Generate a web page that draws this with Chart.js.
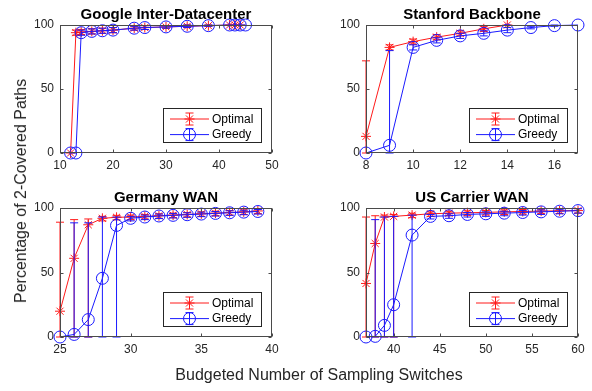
<!DOCTYPE html>
<html><head><meta charset="utf-8">
<script src="https://cdn.jsdelivr.net/npm/chart.js@4.4.1/dist/chart.umd.min.js"></script>
<style>
html,body{margin:0;padding:0;background:#fff;width:592px;height:391px;overflow:hidden;}
canvas{position:absolute;left:0;top:0;}
.lab{position:absolute;font-family:"Liberation Sans",Arial,sans-serif;font-size:16px;color:#262626;white-space:nowrap;}
#xlab{left:319px;top:375px;transform:translate(-50%,-50%);}
#ylab{left:21px;top:191px;transform:translate(-50%,-50%) rotate(-90deg);}
</style></head><body>
<canvas id="c0" width="592" height="391"></canvas>
<canvas id="c1" width="592" height="391"></canvas>
<canvas id="c2" width="592" height="391"></canvas>
<canvas id="c3" width="592" height="391"></canvas>
<div class="lab" id="ylab">Percentage of 2-Covered Paths</div>
<div class="lab" id="xlab">Budgeted Number of Sampling Switches</div>
<script>
// ---------- data ----------
const seriesNames = ['Optimal', 'Greedy'];
const yTicks = [0, 50, 100];

// Google Inter-Datacenter
const googleTitle = 'Google Inter-Datacenter';
const googleXTicks = [10, 20, 30, 40, 50];
const googleOptX = [12, 13, 14, 16, 18, 20, 24, 26, 30, 34, 38, 42, 43, 44];
const googleOptY = [0, 94, 94.5, 95, 95.5, 96, 97.5, 98, 98.5, 99, 99.5, 100, 100, 100];
const googleOptLo = [0, 2, 2, 2, 2, 2, 1.5, 1.5, 1, 1, 0.5, 0, 0, 0];
const googleOptHi = [0, 2, 2, 2, 2, 2, 1.5, 1.5, 1, 1, 0.5, 0, 0, 0];
const googleGrdX = [12, 13, 14, 16, 18, 20, 24, 26, 30, 34, 38, 42, 43, 44, 45];
const googleGrdY = [0, 0, 94, 95, 95.5, 96, 97.5, 98, 98.5, 99, 99.5, 100, 100, 100, 100];
const googleGrdLo = [0, 0, 2, 2, 2, 2, 1.5, 1.5, 1, 1, 0.5, 0, 0, 0, 0];
const googleGrdHi = [0, 0, 2, 2, 2, 2, 1.5, 1.5, 1, 1, 0.5, 0, 0, 0, 0];

// Stanford Backbone
const stanfordTitle = 'Stanford Backbone';
const stanfordXTicks = [8, 10, 12, 14, 16];
const stanfordOptX = [8, 9, 10, 11, 12, 13, 14];
const stanfordOptY = [13, 82.5, 87, 90.5, 93.5, 97, 100];
const stanfordOptLo = [13, 2, 2, 2, 2, 2, 0];
const stanfordOptHi = [59, 2, 2, 2, 2, 2, 0];
const stanfordGrdX = [8, 9, 10, 11, 12, 13, 14, 15, 16, 17];
const stanfordGrdY = [0, 6, 82.5, 88, 91.5, 93.5, 96, 98, 99.5, 100];
const stanfordGrdLo = [0, 6, 2, 2, 2, 2, 2, 1, 0.5, 0];
const stanfordGrdHi = [0, 74, 2, 2, 2, 2, 2, 1, 0.5, 0];

// Germany WAN
const germanyTitle = 'Germany WAN';
const germanyXTicks = [25, 30, 35, 40];
const germanyX = [25, 26, 27, 28, 29, 30, 31, 32, 33, 34, 35, 36, 37, 38, 39];
const germanyOptY = [20, 61, 87, 92, 92.8, 93, 93.5, 94, 94.5, 95, 95.5, 96, 96.5, 97, 97.7];
const germanyOptLo = [20, 61, 87, 2, 2, 2, 2, 2, 2, 2, 2, 2, 2, 2, 2];
const germanyOptHi = [69, 30, 4.5, 1.5, 1.5, 1.5, 1.5, 1.5, 1.5, 1.5, 1.5, 1.5, 1.5, 1.5, 1.5];
const germanyGrdY = [0, 2, 13.5, 45.5, 86.5, 92, 93, 93.8, 94.3, 94.8, 95.3, 95.8, 96.3, 96.8, 97.3];
const germanyGrdLo = [0, 2, 13.5, 45.5, 86.5, 2, 2, 2, 2, 2, 2, 2, 2, 2, 2];
const germanyGrdHi = [0, 86.5, 75, 47.5, 6.5, 1.5, 1.5, 1.5, 1.5, 1.5, 1.5, 1.5, 1.5, 1.5, 1.5];

// US Carrier WAN
const usTitle = 'US Carrier WAN';
const usXTicks = [40, 45, 50, 55, 60];
const usX = [37, 38, 39, 40, 42, 44, 46, 48, 50, 52, 54, 56, 58, 60];
const usOptY = [41.5, 72.5, 93, 93.5, 94.5, 95.5, 96, 96.3, 96.6, 97, 97.3, 97.6, 97.8, 98];
const usOptLo = [41.5, 72.5, 93, 93.5, 2, 2, 2, 2, 2, 2, 2, 2, 2, 2];
const usOptHi = [51.5, 21.5, 1.5, 1.5, 1.5, 1.5, 1.5, 1.5, 1.5, 1.5, 1.5, 1.5, 1.5, 1.5];
const usGrdY = [0, 0.5, 9, 25, 79, 93.5, 94, 95, 95.5, 96, 96.5, 97, 97.5, 98];
const usGrdLo = [0, 0.5, 9, 25, 79, 2, 2, 2, 2, 2, 2, 2, 2, 2];
const usGrdHi = [0, 90.5, 84, 68.5, 15.5, 1.5, 1.5, 1.5, 1.5, 1.5, 1.5, 1.5, 1.5, 1.5];

// ---------- drawing ----------
const FONT = '"Liberation Sans", Arial, Helvetica, sans-serif';
const AXC = '#262626';
const RED = '#ff1a1a', BLUE = '#1a1aff';

function drawMarker(ctx, style, x, y, r) {
  ctx.beginPath();
  if (style === 'circle') {
    ctx.arc(x, y, r, 0, Math.PI * 2);
  } else {
    const d = r * Math.SQRT1_2;
    ctx.moveTo(x - r, y); ctx.lineTo(x + r, y);
    ctx.moveTo(x, y - r); ctx.lineTo(x, y + r);
    ctx.moveTo(x - d, y - d); ctx.lineTo(x + d, y + d);
    ctx.moveTo(x - d, y + d); ctx.lineTo(x + d, y - d);
  }
  ctx.stroke();
}

const decor = {
  id: 'decor',
  afterDatasetDraw(chart, args) {
    const ds = chart.data.datasets[args.index];
    if (!ds.errLo) return;
    const xs = chart.scales.x, ys = chart.scales.y, ctx = chart.ctx;
    ctx.save();
    ctx.strokeStyle = ds.borderColor; ctx.lineWidth = 1;
    ds.data.forEach((p, i) => {
      if (!ds.errLo[i] && !ds.errHi[i]) return;
      const px = xs.getPixelForValue(p.x);
      const y1 = ys.getPixelForValue(p.y - ds.errLo[i]);
      const y2 = ys.getPixelForValue(p.y + ds.errHi[i]);
      ctx.beginPath();
      ctx.moveTo(px, y1); ctx.lineTo(px, y2);
      ctx.moveTo(px - 4, y1); ctx.lineTo(px + 4, y1);
      ctx.moveTo(px - 4, y2); ctx.lineTo(px + 4, y2);
      ctx.stroke();
    });
    ctx.restore();
  },
  afterDraw(chart) {
    const o = chart.options.plugins.decor;
    const a = chart.chartArea, ctx = chart.ctx;
    const xs = chart.scales.x, ys = chart.scales.y;
    ctx.save();
    ctx.strokeStyle = '#4a4a4a'; ctx.lineWidth = 1;
    const L = Math.round(a.left) + 0.5, R = Math.round(a.right) - 0.5;
    const T = Math.round(a.top) + 0.5, B = Math.round(a.bottom) - 0.5;
    ctx.strokeRect(L, T, R - L, B - T);
    ctx.beginPath();
    xs.ticks.forEach(t => {
      const px = Math.round(xs.getPixelForValue(t.value)) + 0.5;
      ctx.moveTo(px, B); ctx.lineTo(px, B - 3);
      ctx.moveTo(px, T); ctx.lineTo(px, T + 3);
    });
    ys.ticks.forEach(t => {
      const py = Math.round(ys.getPixelForValue(t.value)) + 0.5;
      ctx.moveTo(L, py); ctx.lineTo(L + 3, py);
      ctx.moveTo(R, py); ctx.lineTo(R - 3, py);
    });
    ctx.stroke();
    // title
    ctx.fillStyle = '#000';
    ctx.font = 'bold 15px ' + FONT;
    ctx.textAlign = 'center'; ctx.textBaseline = 'alphabetic';
    ctx.fillText(o.title, (a.left + a.right) / 2, a.top - 6);
    // legend
    const bw = 98, bh = 34;
    const bx = Math.round(a.right) - 11 - bw, by = Math.round(a.bottom) - 11 - bh;
    ctx.fillStyle = '#fff'; ctx.fillRect(bx, by, bw, bh);
    ctx.strokeStyle = AXC; ctx.strokeRect(bx + 0.5, by + 0.5, bw, bh);
    chart.data.datasets.forEach((ds, i) => {
      const cy = by + 11 + i * 15.6, cx = bx + 26.5;
      ctx.strokeStyle = ds.borderColor; ctx.lineWidth = 1;
      ctx.beginPath();
      ctx.moveTo(bx + 7, cy); ctx.lineTo(bx + 46, cy);
      ctx.moveTo(cx, cy - 6); ctx.lineTo(cx, cy + 6);
      ctx.moveTo(cx - 4, cy - 6); ctx.lineTo(cx + 4, cy - 6);
      ctx.moveTo(cx - 4, cy + 6); ctx.lineTo(cx + 4, cy + 6);
      ctx.stroke();
      drawMarker(ctx, ds.pointStyle === 'circle' ? 'circle' : 'star', cx, cy, ds.pointStyle === 'circle' ? 6 : 5);
      ctx.fillStyle = '#000'; ctx.font = '12px ' + FONT;
      ctx.textAlign = 'left'; ctx.textBaseline = 'middle';
      ctx.fillText(ds.label, bx + 49, cy + 0.5);
    });
    ctx.restore();
  }
};

function mkDs(label, xs, ys, lo, hi, color, style, order) {
  return {
    label, order,
    data: xs.map((x, i) => ({x, y: ys[i]})),
    errLo: lo, errHi: hi,
    borderColor: color, backgroundColor: 'rgba(0,0,0,0)',
    borderWidth: 1, showLine: true, tension: 0, clip: false,
    pointStyle: style === 'circle' ? 'circle' : 'star',
    pointRadius: style === 'circle' ? 6 : 5,
    pointBorderColor: color, pointBackgroundColor: 'rgba(0,0,0,0)',
    pointBorderWidth: 1, pointHoverRadius: 0
  };
}

function mkChart(id, title, xmin, xmax, xticks, pad, datasets) {
  const tickFont = {family: FONT, size: 12};
  return new Chart(document.getElementById(id), {
    type: 'scatter',
    data: {datasets},
    options: {
      responsive: false, animation: false, events: [],
      layout: {padding: pad},
      plugins: {legend: {display: false}, tooltip: {enabled: false}, decor: {title}},
      scales: {
        x: {
          type: 'linear', min: xmin, max: xmax,
          afterBuildTicks: s => { s.ticks = xticks.map(v => ({value: v})); },
          afterFit: s => { s.height = 20; },
          grid: {display: false, drawTicks: false}, border: {display: false},
          ticks: {font: tickFont, color: AXC, padding: 5, maxRotation: 0, autoSkip: false}
        },
        y: {
          type: 'linear', min: 0, max: 100,
          afterBuildTicks: s => { s.ticks = yTicks.map(v => ({value: v})); },
          afterFit: s => { s.width = 40; },
          grid: {display: false, drawTicks: false}, border: {display: false},
          ticks: {font: tickFont, color: AXC, padding: 6, autoSkip: false}
        }
      }
    },
    plugins: [decor]
  });
}

mkChart('c0', googleTitle, 10, 50, googleXTicks, {left: 20, right: 320, top: 25, bottom: 218}, [
  mkDs(seriesNames[0], googleOptX, googleOptY, googleOptLo, googleOptHi, RED, 'star', 1),
  mkDs(seriesNames[1], googleGrdX, googleGrdY, googleGrdLo, googleGrdHi, BLUE, 'circle', 0)
]);
mkChart('c1', stanfordTitle, 8, 17, stanfordXTicks, {left: 326, right: 14, top: 25, bottom: 218}, [
  mkDs(seriesNames[0], stanfordOptX, stanfordOptY, stanfordOptLo, stanfordOptHi, RED, 'star', 1),
  mkDs(seriesNames[1], stanfordGrdX, stanfordGrdY, stanfordGrdLo, stanfordGrdHi, BLUE, 'circle', 0)
]);
mkChart('c2', germanyTitle, 25, 40, germanyXTicks, {left: 20, right: 320, top: 208, bottom: 34}, [
  mkDs(seriesNames[0], germanyX, germanyOptY, germanyOptLo, germanyOptHi, RED, 'star', 1),
  mkDs(seriesNames[1], germanyX, germanyGrdY, germanyGrdLo, germanyGrdHi, BLUE, 'circle', 0)
]);
mkChart('c3', usTitle, 37, 60, usXTicks, {left: 326, right: 14, top: 208, bottom: 34}, [
  mkDs(seriesNames[0], usX, usOptY, usOptLo, usOptHi, RED, 'star', 1),
  mkDs(seriesNames[1], usX, usGrdY, usGrdLo, usGrdHi, BLUE, 'circle', 0)
]);
</script>
</body></html>
